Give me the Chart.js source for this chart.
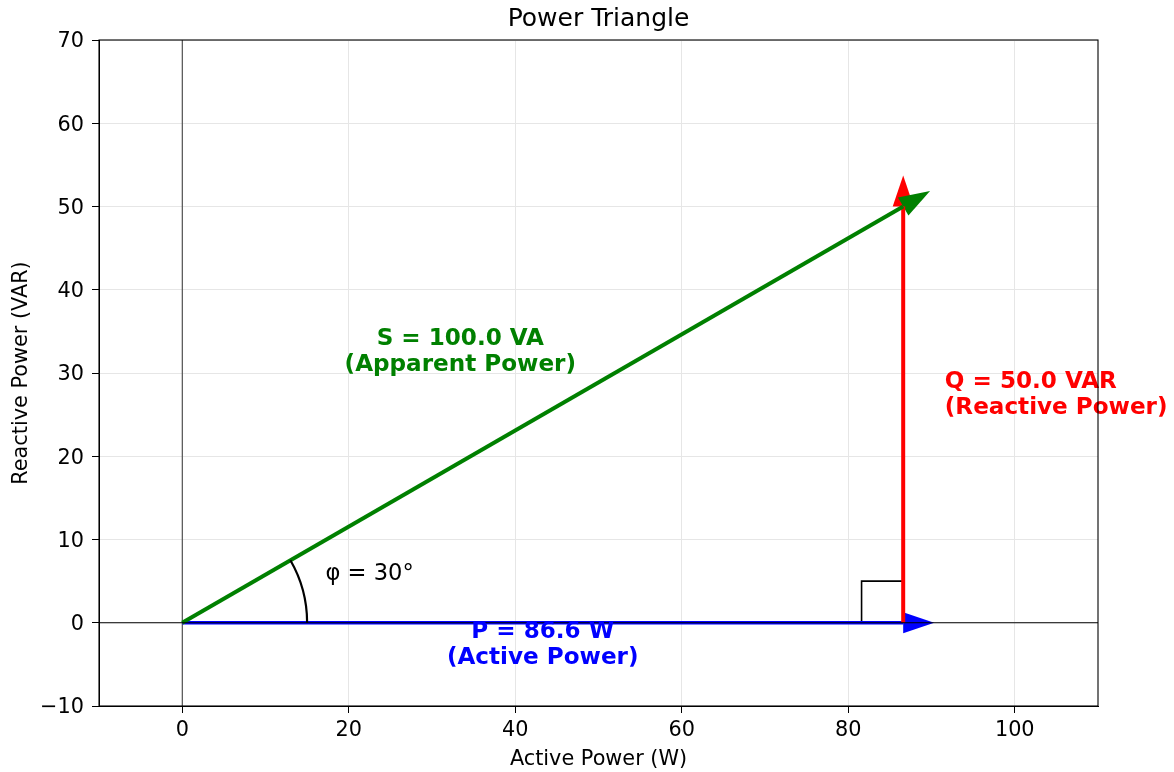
<!DOCTYPE html>
<html>
<head>
<meta charset="utf-8">
<title>Power Triangle</title>
<script src="https://cdn.jsdelivr.net/npm/chart.js@4"></script>
<style>
    html, body { margin: 0; padding: 0; background: #fff; }
    #wrap { width: 1174px; height: 772px; position: relative; }
</style>
</head>
<body>
<div id="wrap"><canvas id="powerChart"></canvas></div>
<script>
// 功率三角形数据
const activeP = 86.6;     // W
const reactiveQ = 50.0;   // VAR
const apparentS = 100.0;  // VA
const phiDeg = 30;
const arcRadius = 15;

const xTicks = [0, 20, 40, 60, 80, 100];
const yTicks = [-10, 0, 10, 20, 30, 40, 50, 60, 70];

// 三个矢量 起点 -> 终点
const pArrowX = [0, 86.6];
const pArrowY = [0, 0];
const qArrowX = [86.6, 86.6];
const qArrowY = [0, 50.0];
const sArrowX = [0, 86.6];
const sArrowY = [0, 50.0];

// 直角标记
const squareX = [81.6, 81.6, 86.6, 86.6];
const squareY = [0, 5, 5, 0];

const FONT = 'DejaVu Sans';

function toPoints(xs, ys) {
    return xs.map((x, i) => ({ x: x, y: ys[i] }));
}

// 箭头头部（像素长度 / 半宽）
function drawHead(ctx, x0, y0, x1, y1, color) {
    const len = 31, half = 10.5;
    const dx = x1 - x0, dy = y1 - y0;
    const d = Math.hypot(dx, dy);
    const ux = dx / d, uy = dy / d;
    const tipX = x1 + ux * len, tipY = y1 + uy * len;
    ctx.beginPath();
    ctx.moveTo(tipX, tipY);
    ctx.lineTo(x1 - uy * half, y1 + ux * half);
    ctx.lineTo(x1 + uy * half, y1 - ux * half);
    ctx.closePath();
    ctx.fillStyle = color;
    ctx.fill();
}

const headsPlugin = {
    id: 'arrowHeads',
    beforeDatasetsDraw(chart) {
        const { ctx, scales: { x, y } } = chart;
        ctx.save();
        drawHead(ctx, x.getPixelForValue(pArrowX[0]), y.getPixelForValue(pArrowY[0]),
            x.getPixelForValue(pArrowX[1]), y.getPixelForValue(pArrowY[1]), 'blue');
        drawHead(ctx, x.getPixelForValue(qArrowX[0]), y.getPixelForValue(qArrowY[0]),
            x.getPixelForValue(qArrowX[1]), y.getPixelForValue(qArrowY[1]), 'red');
        drawHead(ctx, x.getPixelForValue(sArrowX[0]), y.getPixelForValue(sArrowY[0]),
            x.getPixelForValue(sArrowX[1]), y.getPixelForValue(sArrowY[1]), 'green');
        ctx.restore();
    }
};

function drawLines(ctx, lines, px, py, align, color, weight, size) {
    const lh = 26;
    ctx.font = `${weight} ${size}px "${FONT}"`;
    ctx.fillStyle = color;
    ctx.textAlign = align;
    ctx.textBaseline = 'middle';
    const top = py - (lines.length - 1) * lh / 2;
    lines.forEach((t, i) => ctx.fillText(t, px, top + i * lh));
}

const annotPlugin = {
    id: 'annotations',
    afterDatasetsDraw(chart) {
        const { ctx, chartArea, scales: { x, y } } = chart;
        ctx.save();
        // 角度弧线
        const cx = x.getPixelForValue(0), cy = y.getPixelForValue(0);
        const rx = x.getPixelForValue(arcRadius) - cx;
        const ry = cy - y.getPixelForValue(arcRadius);
        ctx.beginPath();
        ctx.ellipse(cx, cy, rx, ry, 0, -phiDeg * Math.PI / 180, 0);
        ctx.strokeStyle = 'black';
        ctx.lineWidth = 2.2;
        ctx.stroke();

        drawLines(ctx, [`S = ${apparentS.toFixed(1)} VA`, '(Apparent Power)'],
            x.getPixelForValue(33.4), y.getPixelForValue(32.5), 'center', 'green', 'bold', 23.1);
        drawLines(ctx, [`Q = ${reactiveQ.toFixed(1)} VAR`, '(Reactive Power)'],
            x.getPixelForValue(91.6), y.getPixelForValue(27.4), 'left', 'red', 'bold', 23.1);
        drawLines(ctx, [`P = ${activeP.toFixed(1)} W`, '(Active Power)'],
            x.getPixelForValue(activeP / 2), y.getPixelForValue(-2.65), 'center', 'blue', 'bold', 23.1);
        drawLines(ctx, [`φ = ${phiDeg}°`],
            x.getPixelForValue(17.2), y.getPixelForValue(5.9), 'left', 'black', 'normal', 22.6);

        // 标题，居中于绘图区
        drawLines(ctx, ['Power Triangle'],
            (chartArea.left + chartArea.right) / 2, 19, 'center', 'black', 'normal', 25);

        // 外框
        ctx.strokeStyle = 'black';
        ctx.lineWidth = 1.1;
        ctx.strokeRect(chartArea.left, chartArea.top,
            chartArea.right - chartArea.left, chartArea.bottom - chartArea.top);
        ctx.restore();
    }
};

const ctx = document.getElementById('powerChart').getContext('2d');
new Chart(ctx, {
    type: 'scatter',
    data: {
        datasets: [
            {
                label: 'y=0',
                data: [{ x: -10, y: 0 }, { x: 110, y: 0 }],
                showLine: true, borderColor: '#000', borderWidth: 1,
                pointRadius: 0, order: 0
            },
            {
                label: 'x=0',
                data: [{ x: 0, y: -10 }, { x: 0, y: 70 }],
                showLine: true, borderColor: '#333', borderWidth: 1,
                pointRadius: 0, order: 5
            },
            {
                label: 'S',
                data: toPoints(sArrowX, sArrowY),
                showLine: true, borderColor: 'green', borderWidth: 4,
                pointRadius: 0, order: 1
            },
            {
                label: 'Q',
                data: toPoints(qArrowX, qArrowY),
                showLine: true, borderColor: 'red', borderWidth: 4,
                pointRadius: 0, order: 2
            },
            {
                label: 'P',
                data: toPoints(pArrowX, pArrowY),
                showLine: true, borderColor: 'blue', borderWidth: 3.4,
                pointRadius: 0, order: 3
            },
            {
                label: 'right angle',
                data: toPoints(squareX, squareY),
                showLine: true, borderColor: '#000', borderWidth: 1.6,
                pointRadius: 0, order: 4
            }
        ]
    },
    options: {
        responsive: true,
        maintainAspectRatio: false,
        animation: false,
        layout: { padding: { left: 0, right: 76, top: 40, bottom: 0 } },
        plugins: {
            legend: { display: false },
            tooltip: { enabled: false },
            title: { display: false }
        },
        scales: {
            x: {
                type: 'linear',
                min: -10,
                max: 110,
                afterFit: (s) => { s.height = 66; },
                afterBuildTicks: (s) => { s.ticks = xTicks.map(v => ({ value: v })); },
                grid: { color: '#e6e6e6', lineWidth: 1, tickColor: '#000', tickLength: 7 },
                border: { color: '#000', width: 1 },
                ticks: {
                    color: '#000',
                    padding: 5,
                    font: { family: FONT, size: 20.8 },
                    callback: (v) => String(v).replace('-', '\u2212')
                },
                title: {
                    display: true,
                    text: 'Active Power (W)',
                    color: '#000',
                    font: { family: FONT, size: 20.8 },
                    padding: { top: 0, bottom: 0 }
                }
            },
            y: {
                type: 'linear',
                min: -10,
                max: 70,
                afterFit: (s) => { s.width = 99; },
                afterBuildTicks: (s) => { s.ticks = yTicks.map(v => ({ value: v })); },
                grid: { color: '#e6e6e6', lineWidth: 1, tickColor: '#000', tickLength: 7 },
                border: { color: '#000', width: 1 },
                ticks: {
                    color: '#000',
                    padding: 8,
                    labelOffset: 2,
                    font: { family: FONT, size: 20.8 },
                    callback: (v) => String(v).replace('-', '\u2212')
                },
                title: {
                    display: true,
                    text: 'Reactive Power (VAR)',
                    color: '#000',
                    font: { family: FONT, size: 20.8 },
                    padding: { top: 9, bottom: 0 }
                }
            }
        }
    },
    plugins: [headsPlugin, annotPlugin]
});
</script>
</body>
</html>
